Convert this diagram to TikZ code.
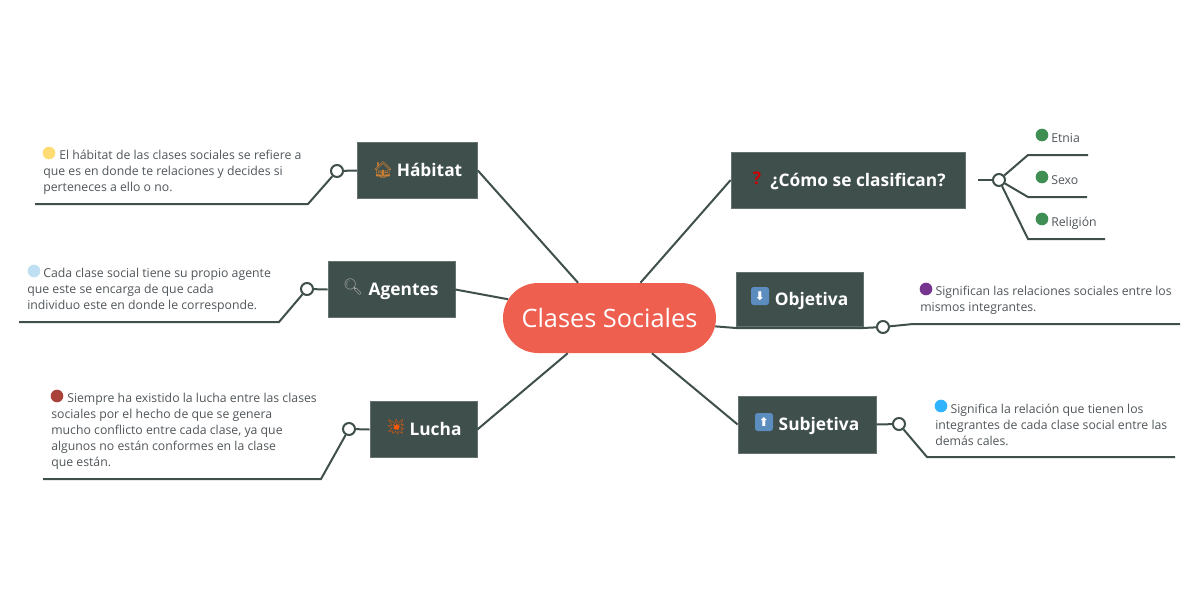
\documentclass[tikz,border=0pt]{standalone}
\usepackage{fontspec}
\setmainfont{Open Sans}
\newfontfamily\emojifont{Noto Emoji}
\newfontfamily\arrowfont{DejaVu Sans}
\usetikzlibrary{positioning,shapes.misc}
\definecolor{slate}{HTML}{3F4F4C}
\definecolor{coral}{HTML}{EE5F50}
\definecolor{bodygrey}{HTML}{50565A}
\definecolor{keyblue}{HTML}{5B8DBF}
\definecolor{dotyellow}{HTML}{FFDC73}
\definecolor{dotsky}{HTML}{BFE0F2}
\definecolor{dotred}{HTML}{A9433A}
\definecolor{dotpurple}{HTML}{76368F}
\definecolor{dotblue}{HTML}{2FB3FF}
\definecolor{dotgreen}{HTML}{3F8F55}
\def\px{0.75pt}
\newcommand\titlestrut{\rule[-3.2pt]{0pt}{16pt}}
\tikzset{
  topic/.style={draw=slate!80!white, line width=0.5pt, fill=slate, text=white, inner sep=0pt,
                font=\fontsize{13}{16}\selectfont\bfseries},
  link/.style={draw=slate, line width=1.5pt},
  knob/.style={circle, draw=slate, line width=1.5pt, fill=white, inner sep=0pt, minimum size=9pt},
  body/.style={anchor=west, align=left, inner sep=0pt, text=bodygrey,
               font=\fontsize{9.2}{12}\selectfont},
  bullet/.style={circle, inner sep=0pt, minimum size=9.5pt},
  emoji/.style={inner sep=0pt, font=\emojifont\fontsize{12}{14}\selectfont},
  keycap/.style={rounded corners=2pt, fill=keyblue, text=white, inner sep=0pt, minimum size=13.5pt,
                 font=\arrowfont\fontsize{9}{9}\selectfont\bfseries}
}
\begin{document}
\begin{tikzpicture}[x=0.75pt, y=-0.75pt]
  \useasboundingbox (0,0) rectangle (1200,600);
  % Central node
  \node(root)[rounded rectangle, fill=coral, text=white, minimum width=213*\px, minimum height=70*\px,
              inner sep=0pt, font=\fontsize{19}{22}\selectfont] at (609.5,318) {Clases Sociales};
  % Topic nodes
  \node(habitat)[topic, minimum width=120*\px, minimum height=56*\px] at (417.5,170.5) {\titlestrut\hspace*{18pt}Hábitat};
  \node(agentes)[topic, minimum width=127*\px, minimum height=56*\px] at (391.5,289.5) {\titlestrut\hspace*{18pt}Agentes};
  \node(lucha)[topic, minimum width=107*\px, minimum height=56*\px] at (423.5,429.5) {\titlestrut\hspace*{18pt}Lucha};
  \node(clasifican)[topic, minimum width=234*\px, minimum height=56*\px] at (848,180) {\titlestrut\hspace*{15pt}¿Cómo se clasifican?};
  \node(objetiva)[topic, minimum width=127*\px, minimum height=54*\px] at (799.5,299) {\raisebox{1.5pt}{\titlestrut\hspace*{18pt}Objetiva}};
  \node(subjetiva)[topic, minimum width=138*\px, minimum height=57*\px] at (807,424.5) {\titlestrut\hspace*{18pt}Subjetiva};
  % Emoji nodes
  \node(house)[emoji, text=brown!80!orange] at (383,170) {🏠};
  \node(lens)[emoji, text=black!35!white] at (353,287) {🔍};
  \node(burst)[emoji, text=orange!70!red] at (396,427) {💥};
  \node(question)[inner sep=0pt, text=red!80!black, font=\fontsize{13}{14}\selectfont\bfseries] at (757,178) {?};
  \node(down)[keycap] at (760,296) {⬇};
  \node(up)[keycap] at (764,422) {⬆};
  % Knob nodes
  \node(habitatknob)[knob] at (337,171) {};
  \node(agentesknob)[knob] at (307,289) {};
  \node(luchaknob)[knob] at (349,429) {};
  \node(clasificanknob)[knob] at (999,180) {};
  \node(objetivaknob)[knob] at (883,327) {};
  \node(subjetivaknob)[knob] at (899,424) {};
  % Line ends
  \coordinate (habitatbend) at (308,204);   \coordinate (habitatend) at (35,204);
  \coordinate (agentesbend) at (279,322);   \coordinate (agentesend) at (19,322);
  \coordinate (luchabend) at (321,479);     \coordinate (luchaend) at (43,479);
  \coordinate (objetivabend) at (913,324);  \coordinate (objetivaend) at (1180,324);
  \coordinate (subjetivabend) at (927,457); \coordinate (subjetivaend) at (1175,457);
  \coordinate (etniabend) at (1028,155);    \coordinate (etniaend) at (1088,155);
  \coordinate (sexobend) at (1028,197);     \coordinate (sexoend) at (1087,197);
  \coordinate (religionbend) at (1028,239); \coordinate (religionend) at (1105,239);
  \coordinate (objetivaleft) at (736,328);  \coordinate (objetivaright) at (863,328);
  \coordinate (clasificanstub) at (978,180);
  % Lines from the central node
  \draw[link] (root) -- (habitat.east);
  \draw[link] (root) -- (agentes.east);
  \draw[link] (root) -- (lucha.east);
  \draw[link] (root) -- (clasifican.west);
  \draw[link] (root) -- (subjetiva.west);
  \draw[link] (root) -- (objetivaleft) -- (objetivaright) -- (objetivaknob);
  % Lines to the texts
  \draw[link] (habitat.west) -- (habitatknob);
  \draw[link] (habitatknob) -- (habitatbend) -- (habitatend);
  \draw[link] (agentes.west) -- (agentesknob);
  \draw[link] (agentesknob) -- (agentesbend) -- (agentesend);
  \draw[link] (lucha.west) -- (luchaknob);
  \draw[link] (luchaknob) -- (luchabend) -- (luchaend);
  \draw[link] (objetivaknob) -- (objetivabend) -- (objetivaend);
  \draw[link] (subjetiva.east) -- (subjetivaknob);
  \draw[link] (subjetivaknob) -- (subjetivabend) -- (subjetivaend);
  \draw[link] (clasificanstub) -- (clasificanknob);
  \draw[link] (clasificanknob) -- (etniabend) -- (etniaend);
  \draw[link] (clasificanknob) -- (sexobend) -- (sexoend);
  \draw[link] (clasificanknob) -- (religionbend) -- (religionend);
  % Text nodes
  \node(habitattext)[body] at (43,172) {\hspace*{12pt}El hábitat de las clases sociales se refiere a\\que es en donde te relaciones y decides si\\perteneces a ello o no.};
  \node(agentestext)[body] at (27,290) {\hspace*{12pt}Cada clase social tiene su propio agente\\que este se encarga de que cada\\individuo este en donde le corresponde.};
  \node(luchatext)[body] at (51,431) {\hspace*{12pt}Siempre ha existido la lucha entre las clases\\sociales por el hecho de que se genera\\mucho conflicto entre cada clase, ya que\\algunos no están conformes en la clase\\que están.};
  \node(objetivatext)[body] at (920,300) {\hspace*{11.5pt}Significan las relaciones sociales entre los\\mismos integrantes.};
  \node(subjetivatext)[body] at (935,425) {\hspace*{11.5pt}Significa la relación que tienen los\\integrantes de cada clase social entre las\\demás cales.};
  \node(etnia)[body] at (1051,139) {\strut Etnia};
  \node(sexo)[body] at (1051,181) {\strut Sexo};
  \node(religion)[body] at (1051,223) {\strut Religión};
  % Bullet nodes
  \node(habitatdot)[bullet, fill=dotyellow] at (49,153) {};
  \node(agentesdot)[bullet, fill=dotsky] at (34,271) {};
  \node(luchadot)[bullet, fill=dotred] at (57,396) {};
  \node(objetivadot)[bullet, fill=dotpurple] at (926,289) {};
  \node(subjetivadot)[bullet, fill=dotblue] at (941,406) {};
  \node(etniadot)[bullet, fill=dotgreen] at (1042,135) {};
  \node(sexodot)[bullet, fill=dotgreen] at (1042,177) {};
  \node(religiondot)[bullet, fill=dotgreen] at (1042,219) {};
\end{tikzpicture}
\end{document}
